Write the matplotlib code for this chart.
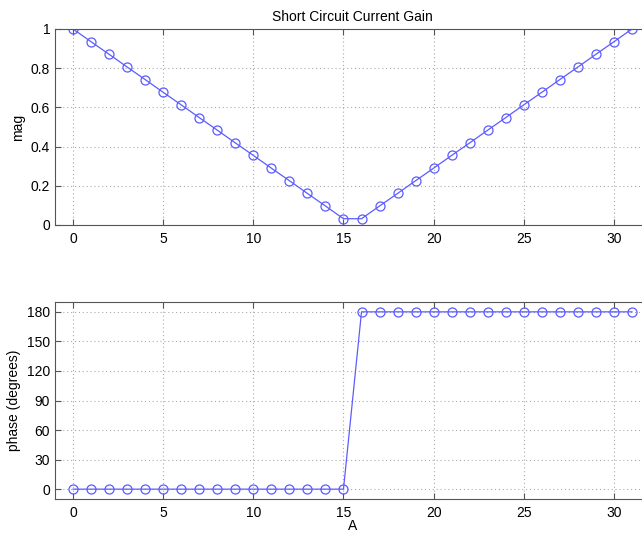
import matplotlib
matplotlib.use('Agg')
import matplotlib.pyplot as plt

plt.rcParams['font.family'] = ['Liberation Sans', 'DejaVu Sans']

A = list(range(32))
mag = [1.0, 0.935, 0.871, 0.806, 0.742, 0.677, 0.613, 0.548,
       0.484, 0.419, 0.355, 0.290, 0.226, 0.161, 0.097, 0.032,
       0.032, 0.097, 0.161, 0.226, 0.290, 0.355, 0.419, 0.484,
       0.548, 0.613, 0.677, 0.742, 0.806, 0.871, 0.935, 1.0]
phase = [0] * 16 + [180] * 16

title = 'Short Circuit Current Gain'
mag_ticks = [0, 0.2, 0.4, 0.6, 0.8, 1]
phase_ticks = [0, 30, 60, 90, 120, 150, 180]
x_ticks = [0, 5, 10, 15, 20, 25, 30]

line_col = '#5c5cff'
spine_col = '#555555'

fig = plt.figure(figsize=(6.42, 5.33), dpi=100)
ax1 = fig.add_axes([55/642, 1 - 225/533, 595/642, 196/533])
ax2 = fig.add_axes([55/642, 1 - 499/533, 595/642, 197/533])


def style(ax):
    for s in ax.spines.values():
        s.set_color(spine_col)
        s.set_linewidth(0.8)
    ax.tick_params(direction='in', top=True, right=True, length=4,
                   color=spine_col, labelsize=10, labelcolor='black')
    ax.tick_params(axis='x', pad=5)
    ax.grid(True, linestyle=(0, (1, 2.5)), color='#aaaaaa', linewidth=0.8)
    ax.set_xlim(-1, 32)
    ax.set_xticks(x_ticks)
    ax.set_xticklabels([str(t) for t in x_ticks])


ax1.plot(A, mag, '-o', color=line_col, lw=0.9, ms=6.5,
         mfc='none', mec=line_col, mew=0.9)
style(ax1)
ax1.set_ylim(0, 1)
ax1.set_yticks(mag_ticks)
ax1.set_yticklabels(['0', '0.2', '0.4', '0.6', '0.8', '1'])
ax1.set_ylabel('mag', fontsize=10)
ax1.set_title(title, fontsize=10, pad=6)

ax2.plot(A, phase, '-o', color=line_col, lw=0.9, ms=6.5,
         mfc='none', mec=line_col, mew=0.9)
style(ax2)
ax2.set_ylim(-10, 190)
ax2.set_yticks(phase_ticks)
ax2.set_ylabel('phase (degrees)', fontsize=10)
ax2.set_xlabel('A', fontsize=10, labelpad=-1)

fig.savefig('out.png', dpi=100)
